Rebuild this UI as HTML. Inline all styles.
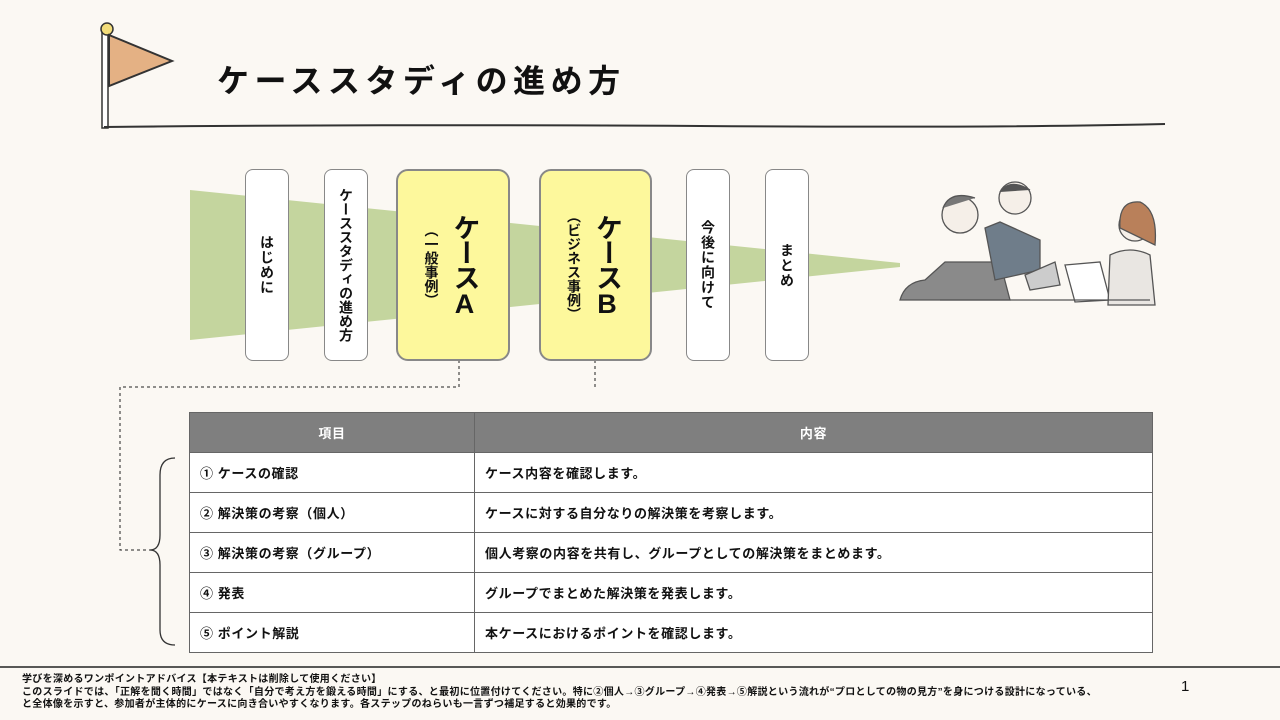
<!DOCTYPE html>
<html><head><meta charset="utf-8"><style>
body{margin:0;width:1280px;height:720px;background:#fbf8f3;position:relative;overflow:hidden;font-family:"Liberation Sans","Noto Sans CJK JP",sans-serif;color:#111}
.v{position:absolute;border:1.3px solid #888;border-radius:8px;background:#fff;box-sizing:border-box;display:flex;align-items:center;justify-content:center;font-weight:bold;font-size:14px}
.v span{writing-mode:vertical-rl;text-orientation:upright;letter-spacing:1px}
.y{background:#fdf89c;border:2px solid #888;border-radius:12px;gap:4px}
table{position:absolute;left:189px;top:412px;border-collapse:collapse;width:964px;font-size:13px;font-weight:bold;letter-spacing:0.6px}
td,th{height:39px;border:1px solid #666;padding:0 0 0 10px;text-align:left}
th{background:#7f7f7f;color:#fff;text-align:center;padding:0;font-size:13px}
td{background:#fff}
</style></head><body>
<svg width="1280" height="720" style="position:absolute;left:0;top:0">
<rect x="102" y="30" width="6" height="98" fill="#fff" stroke="#333" stroke-width="1.5"/>
<circle cx="107" cy="29" r="6" fill="#f3dd7a" stroke="#333" stroke-width="1.5"/>
<polygon points="109,35 172,61 109,86" fill="#e4b184" stroke="#333" stroke-width="2"/>
<path d="M104 127 Q400 124 700 126 T1165 124" stroke="#333" stroke-width="2" fill="none"/>
<polygon points="190,190 900,263 900,267 190,340" fill="#c4d59e"/>
<path d="M459 360 V387 H120 V550 H150 M595 360 V387" stroke="#222" stroke-width="1" stroke-dasharray="3,3" fill="none"/>
<path d="M175 458 Q160 458 160 475 V535 Q160 550 150 550 Q160 550 160 565 V630 Q160 645 175 645" stroke="#333" stroke-width="1.3" fill="none"/>
<line x1="0" y1="667" x2="1280" y2="667" stroke="#222" stroke-width="1.5"/>
<g stroke="#555" stroke-width="1.3">
<path d="M900 300 Q905 282 925 280 L945 262 L1000 262 L1010 300 Z" fill="#8a8a8a"/>
<circle cx="960" cy="215" r="18" fill="#f5efe8"/>
<path d="M943 208 Q950 190 975 198" fill="#777"/>
<path d="M985 228 L1000 222 L1040 240 L1040 270 L995 280 Z" fill="#6f7d8a"/>
<circle cx="1015" cy="198" r="16" fill="#f5efe8"/>
<path d="M1000 192 Q1010 178 1030 190" fill="#555"/>
<path d="M1025 275 L1055 262 L1060 285 L1030 290 Z" fill="#ccc"/>
<path d="M1065 265 L1100 262 L1110 300 L1075 302 Z" fill="#fff"/>
<circle cx="1135" cy="225" r="16" fill="#f5efe8"/>
<path d="M1120 228 Q1118 200 1140 202 Q1158 210 1155 245 Z" fill="#b9805a"/>
<path d="M1110 255 Q1130 245 1150 255 L1155 305 L1108 305 Z" fill="#e9e6e2"/>
<path d="M940 300 L1150 300" fill="none"/>
</g>
</svg>
<div style="position:absolute;left:217px;top:56px;font-size:32px;font-weight:bold;letter-spacing:5.5px">ケーススタディの進め方</div>
<div class="v" style="left:245px;top:169px;width:44px;height:192px"><span>はじめに</span></div>
<div class="v" style="left:324px;top:169px;width:44px;height:192px"><span style="letter-spacing:0">ケーススタディの進め方</span></div>
<div class="v y" style="left:396px;top:169px;width:114px;height:192px"><span style="font-size:14px;letter-spacing:0">（一般事例）</span><span style="font-size:27px;letter-spacing:-2px">ケースA</span></div>
<div class="v y" style="left:539px;top:169px;width:113px;height:192px"><span style="font-size:14px;letter-spacing:0">（ビジネス事例）</span><span style="font-size:27px;letter-spacing:-2px">ケースB</span></div>
<div class="v" style="left:686px;top:169px;width:44px;height:192px"><span>今後に向けて</span></div>
<div class="v" style="left:765px;top:169px;width:44px;height:192px"><span>まとめ</span></div>
<table>
<tr><th style="width:284px">項目</th><th>内容</th></tr>
<tr><td>① ケースの確認</td><td>ケース内容を確認します。</td></tr>
<tr><td>② 解決策の考察（個人）</td><td>ケースに対する自分なりの解決策を考察します。</td></tr>
<tr><td>③ 解決策の考察（グループ）</td><td>個人考察の内容を共有し、グループとしての解決策をまとめます。</td></tr>
<tr><td>④ 発表</td><td>グループでまとめた解決策を発表します。</td></tr>
<tr><td>⑤ ポイント解説</td><td>本ケースにおけるポイントを確認します。</td></tr>
</table>
<div style="position:absolute;left:22px;top:674px;font-size:10px;line-height:12.5px;font-weight:bold;letter-spacing:0.3px">学びを深めるワンポイントアドバイス【本テキストは削除して使用ください】<br>このスライドでは、「正解を聞く時間」ではなく「自分で考え方を鍛える時間」にする、と最初に位置付けてください。特に②個人→③グループ→④発表→⑤解説という流れが“プロとしての物の見方”を身につける設計になっている、<br>と全体像を示すと、参加者が主体的にケースに向き合いやすくなります。各ステップのねらいも一言ずつ補足すると効果的です。</div>
<div style="position:absolute;left:1181px;top:678px;font-size:15px">1</div>
</body></html>
